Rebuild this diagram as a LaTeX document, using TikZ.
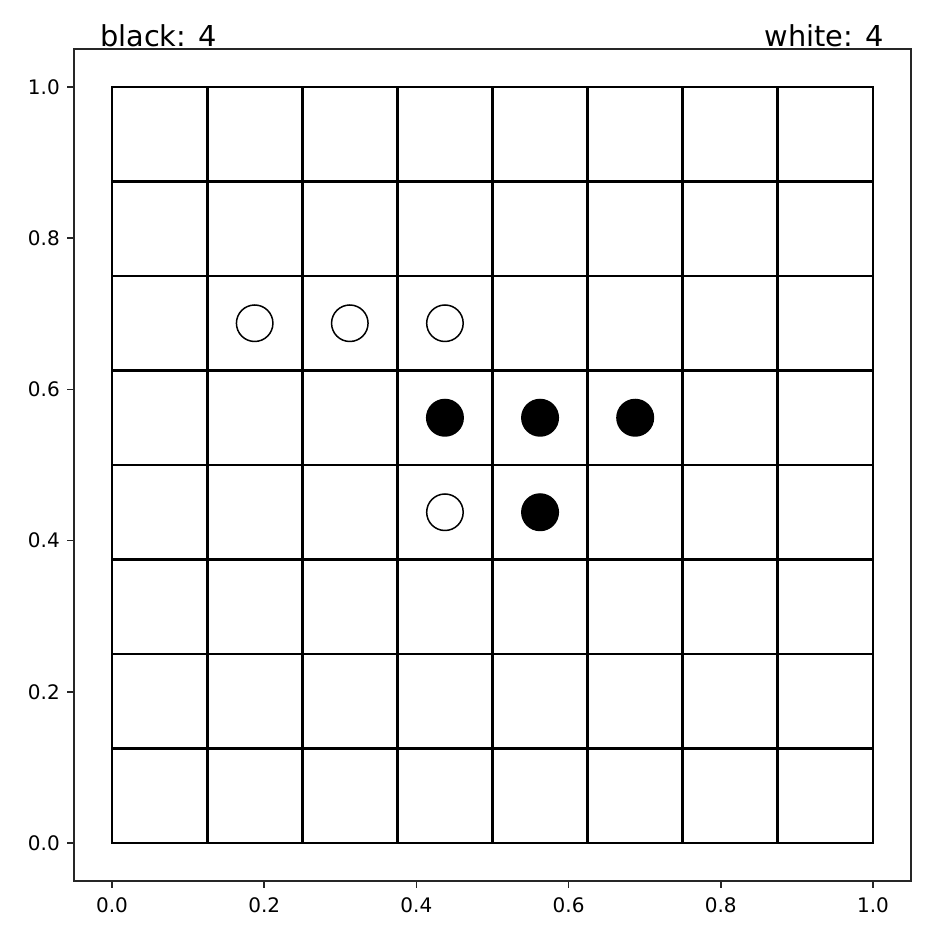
\documentclass[tikz,border=0pt]{standalone}
\usepackage{fontspec}
\setmainfont{DejaVu Sans}
\begin{document}
\begin{tikzpicture}[x=1pt,y=1pt,
  spine/.style={line width=1.6pt,black!85},
  tickmark/.style={line width=1.6pt,black!85},
  gridline/.style={line width=2.8pt,black,line cap=rect},
  ticklabel/.style={inner sep=0pt,font=\fontsize{20}{24}\selectfont},
  titlelabel/.style={inner sep=0pt,font=\fontsize{28.8}{34}\selectfont},
  whitestone/.style={circle,draw=black,fill=white,line width=1.5pt,minimum size=36.5pt,inner sep=0pt},
  blackstone/.style={circle,draw=black,fill=black,line width=1.5pt,minimum size=36.5pt,inner sep=0pt}]
\useasboundingbox[fill=white] (0,0) rectangle (936,934);
% pixel y p -> 934-p
\node[titlelabel,anchor=base west] (tb) at (100,{934-47}) {black: 4};
\node[titlelabel,anchor=base east] (tw) at (884,{934-47}) {white: 4};
\begin{scope}[shift={(112,91)},x=761pt,y=756pt]
  % grid
  \foreach \i in {0,...,8} {
    \draw[gridline] ({\i/8},0) -- ({\i/8},1);
    \draw[gridline] (0,{\i/8}) -- (1,{\i/8});
  }
  % stones
  \node[whitestone] (w1) at (0.1875,0.6875) {};
  \node[whitestone] (w2) at (0.3125,0.6875) {};
  \node[whitestone] (w3) at (0.4375,0.6875) {};
  \node[whitestone] (w4) at (0.4375,0.4375) {};
  \node[blackstone] (b1) at (0.4375,0.5625) {};
  \node[blackstone] (b2) at (0.5625,0.5625) {};
  \node[blackstone] (b3) at (0.6875,0.5625) {};
  \node[blackstone] (b4) at (0.5625,0.4375) {};
  % frame
  \draw[spine] (-0.05,-0.05) rectangle (1.05,1.05);
  % ticks
  \foreach \v/\t in {0/0.0,0.2/0.2,0.4/0.4,0.6/0.6,0.8/0.8,1/1.0} {
    \draw[tickmark] (\v,-0.05) -- ++(0,-7pt);
    \node[ticklabel,anchor=base] (xl\t) at ([yshift=-32pt]\v,-0.05) {\t};
    \draw[tickmark] (-0.05,\v) -- ++(-7pt,0);
    \node[ticklabel,anchor=east] (yl\t) at ([xshift=-14pt]-0.05,\v) {\t};
  }
\end{scope}
\end{tikzpicture}
\end{document}
